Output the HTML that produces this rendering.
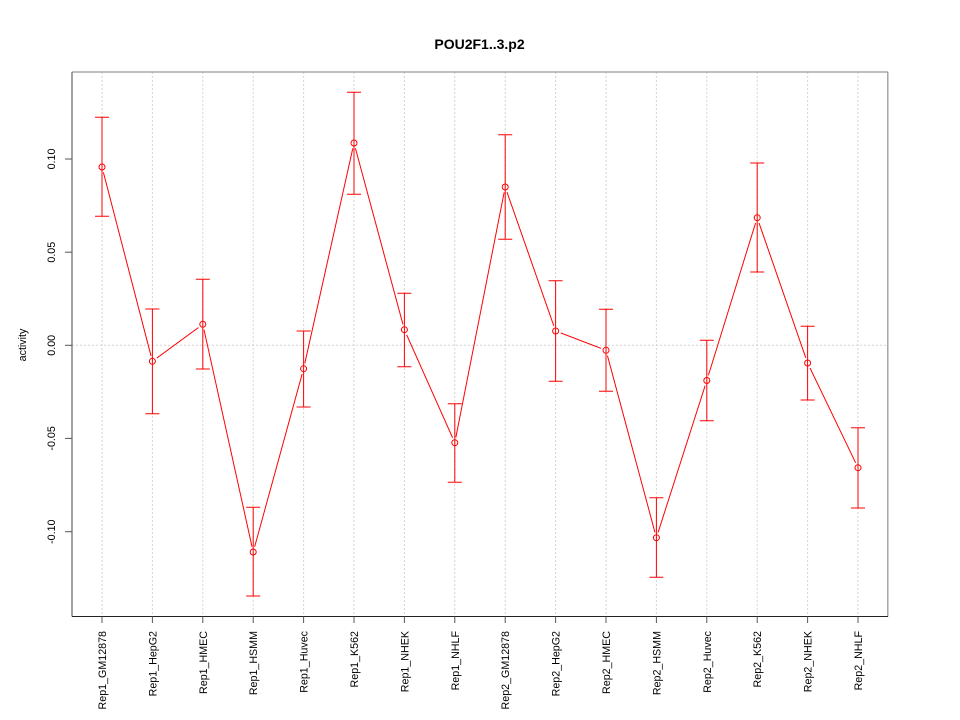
<!DOCTYPE html>
<html>
<head>
<meta charset="utf-8">
<style>
html,body{margin:0;padding:0;background:#fff;}
svg{display:block;}
text{font-family:"Liberation Sans",Arial,sans-serif;fill:#000;}
</style>
</head>
<body>
<svg width="960" height="720" viewBox="0 0 960 720" xmlns="http://www.w3.org/2000/svg">
<rect width="960" height="720" fill="#fff"/>
<defs>
<mask id="gapmask" maskUnits="userSpaceOnUse" x="0" y="0" width="960" height="720">
<rect x="0" y="0" width="960" height="720" fill="#fff"/>
<g fill="#000">
<circle cx="102" cy="167" r="5.5"/>
<circle cx="152.4" cy="361.3" r="5.5"/>
<circle cx="202.8" cy="324.3" r="5.5"/>
<circle cx="253.2" cy="552" r="5.5"/>
<circle cx="303.6" cy="368.7" r="5.5"/>
<circle cx="354" cy="143" r="5.5"/>
<circle cx="404.4" cy="329.7" r="5.5"/>
<circle cx="454.8" cy="442.7" r="5.5"/>
<circle cx="505.2" cy="187" r="5.5"/>
<circle cx="555.6" cy="331" r="5.5"/>
<circle cx="606" cy="350.3" r="5.5"/>
<circle cx="656.4" cy="537.7" r="5.5"/>
<circle cx="706.8" cy="380.5" r="5.5"/>
<circle cx="757.2" cy="217.7" r="5.5"/>
<circle cx="807.6" cy="363" r="5.5"/>
<circle cx="858" cy="467.7" r="5.5"/>
</g>
</mask>
</defs>

<!-- grid -->
<g stroke="#d3d3d3" stroke-width="1" stroke-dasharray="2,2" fill="none">
<line x1="102" y1="72" x2="102" y2="616"/>
<line x1="152.4" y1="72" x2="152.4" y2="616"/>
<line x1="202.8" y1="72" x2="202.8" y2="616"/>
<line x1="253.2" y1="72" x2="253.2" y2="616"/>
<line x1="303.6" y1="72" x2="303.6" y2="616"/>
<line x1="354" y1="72" x2="354" y2="616"/>
<line x1="404.4" y1="72" x2="404.4" y2="616"/>
<line x1="454.8" y1="72" x2="454.8" y2="616"/>
<line x1="505.2" y1="72" x2="505.2" y2="616"/>
<line x1="555.6" y1="72" x2="555.6" y2="616"/>
<line x1="606" y1="72" x2="606" y2="616"/>
<line x1="656.4" y1="72" x2="656.4" y2="616"/>
<line x1="706.8" y1="72" x2="706.8" y2="616"/>
<line x1="757.2" y1="72" x2="757.2" y2="616"/>
<line x1="807.6" y1="72" x2="807.6" y2="616"/>
<line x1="858" y1="72" x2="858" y2="616"/>
<line x1="72" y1="345.3" x2="888" y2="345.3"/>
</g>

<!-- error bars -->
<g stroke="#ff0000" stroke-width="1" fill="none">
<path d="M102 117.3V216.3M95 117.3H109M95 216.3H109"/>
<path d="M152.4 309V413.7M145.4 309H159.4M145.4 413.7H159.4"/>
<path d="M202.8 279.3V369M195.8 279.3H209.8M195.8 369H209.8"/>
<path d="M253.2 507.3V596M246.2 507.3H260.2M246.2 596H260.2"/>
<path d="M303.6 331V407M296.6 331H310.6M296.6 407H310.6"/>
<path d="M354 92.3V194.3M347 92.3H361M347 194.3H361"/>
<path d="M404.4 293.3V366.7M397.4 293.3H411.4M397.4 366.7H411.4"/>
<path d="M454.8 403.7V482.3M447.8 403.7H461.8M447.8 482.3H461.8"/>
<path d="M505.2 134.7V239.3M498.2 134.7H512.2M498.2 239.3H512.2"/>
<path d="M555.6 280.7V381.3M548.6 280.7H562.6M548.6 381.3H562.6"/>
<path d="M606 309.3V391.3M599 309.3H613M599 391.3H613"/>
<path d="M656.4 497.7V577.3M649.4 497.7H663.4M649.4 577.3H663.4"/>
<path d="M706.8 340.3V420.7M699.8 340.3H713.8M699.8 420.7H713.8"/>
<path d="M757.2 163V272M750.2 163H764.2M750.2 272H764.2"/>
<path d="M807.6 326.3V400M800.6 326.3H814.6M800.6 400H814.6"/>
<path d="M858 427.7V508M851 427.7H865M851 508H865"/>
</g>

<!-- connecting line -->
<polyline mask="url(#gapmask)" fill="none" stroke="#ff0000" stroke-width="1"
points="102,167 152.4,361.3 202.8,324.3 253.2,552 303.6,368.7 354,143 404.4,329.7 454.8,442.7 505.2,187 555.6,331 606,350.3 656.4,537.7 706.8,380.5 757.2,217.7 807.6,363 858,467.7"/>

<!-- points -->
<g stroke="#ff0000" stroke-width="1" fill="none">
<circle cx="102" cy="167" r="3"/>
<circle cx="152.4" cy="361.3" r="3"/>
<circle cx="202.8" cy="324.3" r="3"/>
<circle cx="253.2" cy="552" r="3"/>
<circle cx="303.6" cy="368.7" r="3"/>
<circle cx="354" cy="143" r="3"/>
<circle cx="404.4" cy="329.7" r="3"/>
<circle cx="454.8" cy="442.7" r="3"/>
<circle cx="505.2" cy="187" r="3"/>
<circle cx="555.6" cy="331" r="3"/>
<circle cx="606" cy="350.3" r="3"/>
<circle cx="656.4" cy="537.7" r="3"/>
<circle cx="706.8" cy="380.5" r="3"/>
<circle cx="757.2" cy="217.7" r="3"/>
<circle cx="807.6" cy="363" r="3"/>
<circle cx="858" cy="467.7" r="3"/>
</g>

<!-- frame -->
<line x1="72" y1="72" x2="888" y2="72" stroke="#999" stroke-width="1.3"/>
<line x1="887.8" y1="72" x2="887.8" y2="616.5" stroke="#999" stroke-width="1.3"/>
<line x1="72" y1="72" x2="72" y2="616.5" stroke="#666" stroke-width="1.2"/>
<line x1="72" y1="616.5" x2="888" y2="616.5" stroke="#222" stroke-width="1"/>

<!-- y ticks -->
<g stroke="#555" stroke-width="1">
<line x1="65" y1="159" x2="72" y2="159"/>
<line x1="65" y1="252.2" x2="72" y2="252.2"/>
<line x1="65" y1="345.3" x2="72" y2="345.3"/>
<line x1="65" y1="438.4" x2="72" y2="438.4"/>
<line x1="65" y1="531.7" x2="72" y2="531.7"/>
</g>
<g font-size="10.7" text-anchor="middle">
<text transform="translate(55,159) rotate(-90)">0.10</text>
<text transform="translate(55,252.2) rotate(-90)">0.05</text>
<text transform="translate(55,345.3) rotate(-90)">0.00</text>
<text transform="translate(55,438.4) rotate(-90)">-0.05</text>
<text transform="translate(55,531.7) rotate(-90)">-0.10</text>
</g>
<text font-size="10.7" text-anchor="middle" transform="translate(26,345) rotate(-90)">activity</text>

<!-- x ticks -->
<g stroke="#555" stroke-width="1">
<line x1="102" y1="616.5" x2="102" y2="623"/>
<line x1="152.4" y1="616.5" x2="152.4" y2="623"/>
<line x1="202.8" y1="616.5" x2="202.8" y2="623"/>
<line x1="253.2" y1="616.5" x2="253.2" y2="623"/>
<line x1="303.6" y1="616.5" x2="303.6" y2="623"/>
<line x1="354" y1="616.5" x2="354" y2="623"/>
<line x1="404.4" y1="616.5" x2="404.4" y2="623"/>
<line x1="454.8" y1="616.5" x2="454.8" y2="623"/>
<line x1="505.2" y1="616.5" x2="505.2" y2="623"/>
<line x1="555.6" y1="616.5" x2="555.6" y2="623"/>
<line x1="606" y1="616.5" x2="606" y2="623"/>
<line x1="656.4" y1="616.5" x2="656.4" y2="623"/>
<line x1="706.8" y1="616.5" x2="706.8" y2="623"/>
<line x1="757.2" y1="616.5" x2="757.2" y2="623"/>
<line x1="807.6" y1="616.5" x2="807.6" y2="623"/>
<line x1="858" y1="616.5" x2="858" y2="623"/>
</g>
<g font-size="10.7" text-anchor="end">
<text transform="translate(106,631) rotate(-90)">Rep1_GM12878</text>
<text transform="translate(156.4,631) rotate(-90)">Rep1_HepG2</text>
<text transform="translate(206.8,631) rotate(-90)">Rep1_HMEC</text>
<text transform="translate(257.2,631) rotate(-90)">Rep1_HSMM</text>
<text transform="translate(307.6,631) rotate(-90)">Rep1_Huvec</text>
<text transform="translate(358,631) rotate(-90)">Rep1_K562</text>
<text transform="translate(408.4,631) rotate(-90)">Rep1_NHEK</text>
<text transform="translate(458.8,631) rotate(-90)">Rep1_NHLF</text>
<text transform="translate(509.2,631) rotate(-90)">Rep2_GM12878</text>
<text transform="translate(559.6,631) rotate(-90)">Rep2_HepG2</text>
<text transform="translate(610,631) rotate(-90)">Rep2_HMEC</text>
<text transform="translate(660.4,631) rotate(-90)">Rep2_HSMM</text>
<text transform="translate(710.8,631) rotate(-90)">Rep2_Huvec</text>
<text transform="translate(761.2,631) rotate(-90)">Rep2_K562</text>
<text transform="translate(811.6,631) rotate(-90)">Rep2_NHEK</text>
<text transform="translate(862,631) rotate(-90)">Rep2_NHLF</text>
</g>

<!-- title -->
<text x="479.5" y="49" font-size="14" font-weight="bold" text-anchor="middle">POU2F1..3.p2</text>
</svg>
</body>
</html>
